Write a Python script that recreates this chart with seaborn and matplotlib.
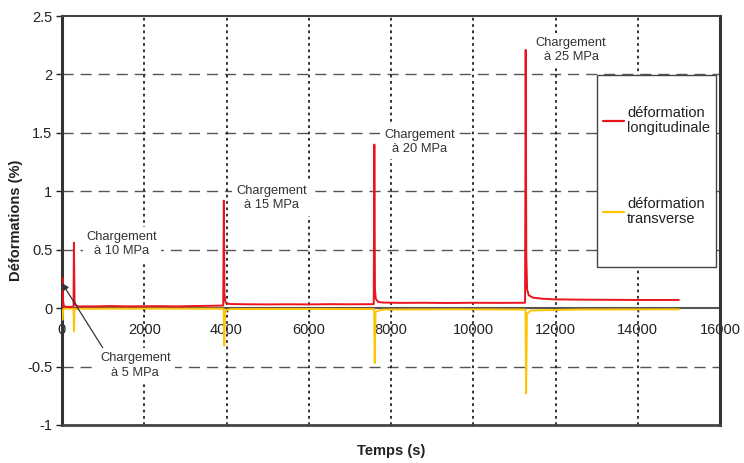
import matplotlib
matplotlib.use("Agg")
import matplotlib.pyplot as plt
from matplotlib.patches import Rectangle
import seaborn as sns
import pandas as pd

# ---- data ----
t_long = [0, 10, 25, 45, 80, 150, 280, 290, 305, 330, 400, 800, 1200, 1600, 2000, 2400, 2800, 3200, 3600, 3920,
          3935, 3950, 3970, 4000, 4100, 4500, 5000, 5500, 6000, 6500, 7000, 7580,
          7595, 7610, 7630, 7680, 7800, 8200, 8800, 9400, 10000, 10600, 11260,
          11275, 11290, 11310, 11350, 11450, 11700, 12000, 12500, 13000, 13500, 14000, 14500, 15000]
v_long = [0.0, 0.26, 0.06, 0.02, 0.012, 0.01, 0.012, 0.56, 0.06, 0.025, 0.015, 0.015, 0.018, 0.015, 0.016, 0.017, 0.015, 0.018, 0.02, 0.022,
          0.92, 0.12, 0.06, 0.04, 0.035, 0.033, 0.032, 0.033, 0.032, 0.034, 0.033, 0.034,
          1.40, 0.16, 0.08, 0.055, 0.048, 0.045, 0.046, 0.044, 0.046, 0.045, 0.046,
          2.21, 0.45, 0.16, 0.11, 0.09, 0.08, 0.075, 0.073, 0.072, 0.071, 0.07, 0.07, 0.07]
t_trans = [0, 10, 25, 60, 280, 290, 305, 400, 2000, 3930, 3945, 3965, 4100, 6000, 7590, 7605, 7625, 7800,
           9500, 11270, 11285, 11305, 11400, 12500, 15000]
v_trans = [0.0, -0.10, -0.005, -0.004, -0.004, -0.20, -0.01, -0.005, -0.004, -0.005, -0.32, -0.02, -0.008, -0.007,
           -0.008, -0.47, -0.03, -0.012, -0.01, -0.012, -0.73, -0.05, -0.02, -0.012, -0.01]
series_names = ["déformation\nlongitudinale", "déformation\ntransverse"]
series_colors = ["#E8141E", "#FFC400"]
annot_texts = ["Chargement\nà 10 MPa", "Chargement\nà 15 MPa", "Chargement\nà 20 MPa", "Chargement\nà 25 MPa"]
annot_pos = [(1460, 0.55), (5100, 0.94), (8700, 1.42), (12380, 2.21)]
x_ticks = [0, 2000, 4000, 6000, 8000, 10000, 12000, 14000, 16000]
y_ticks = [-1, -0.5, 0, 0.5, 1, 1.5, 2, 2.5]
y_tick_labels = ["-1", "-0.5", "0", "0.5", "1", "1.5", "2", "2.5"]

sns.set_theme(style="white")
plt.rcParams["font.family"] = ["Liberation Sans", "DejaVu Sans"]

fig = plt.figure(figsize=(7.44, 4.63), dpi=100)
ax = fig.add_axes([62 / 744, 1 - 425 / 463, 658 / 744, 409 / 463])

df_l = pd.DataFrame({"t": t_long, "v": v_long})
df_t = pd.DataFrame({"t": t_trans, "v": v_trans})
sns.lineplot(data=df_l, x="t", y="v", ax=ax, color=series_colors[0], lw=1.4,
             estimator=None, label=series_names[0], zorder=4)
sns.lineplot(data=df_t, x="t", y="v", ax=ax, color=series_colors[1], lw=1.4,
             estimator=None, label=series_names[1], zorder=3)

ax.set_xlim(0, 16000)
ax.set_ylim(-1, 2.5)

# grid
for yv in [-0.5, 0.5, 1, 1.5, 2]:
    ax.axhline(yv, color="#555555", lw=1.0, dashes=(8, 5), zorder=1)
for xv in x_ticks[1:-1]:
    ax.axvline(xv, color="#222222", lw=1.3, dashes=(1.5, 2), zorder=1)

ax.set_xticks(x_ticks)
ax.set_xticklabels([str(x) for x in x_ticks])
ax.set_yticks(y_ticks)
ax.set_yticklabels(y_tick_labels)

ax.spines["bottom"].set_position(("data", 0))
ax.spines["bottom"].set_color("#555555")
ax.spines["bottom"].set_linewidth(1.5)
ax.spines["bottom"].set_zorder(2)
for s in ["left", "right"]:
    ax.spines[s].set_color("#333333")
    ax.spines[s].set_linewidth(2.2)
ax.spines["top"].set_color("#444444")
ax.spines["top"].set_linewidth(1.5)
ax.axhline(-1, color="#444444", lw=2.0, clip_on=False, zorder=5)

ax.tick_params(axis="both", labelsize=10.5, colors="#222222", direction="out",
               length=4, width=1.0, pad=3)
ax.tick_params(axis="x", pad=8, length=3)
ax.tick_params(axis="y", left=True, length=4)
ax.tick_params(axis="x", bottom=True)

ax.set_xlabel("")
ax.set_ylabel("Déformations (%)", fontsize=10.5, fontweight="bold", color="#222222", labelpad=3)
fig.text(391 / 744, 1 - 451 / 463, "Temps (s)", ha="center", va="center",
         fontsize=10.5, fontweight="bold", color="#222222")

text_bbox = dict(facecolor="white", edgecolor="none", pad=3)
for txt, (x, y) in zip(annot_texts, annot_pos):
    ax.text(x, y, txt, ha="center", va="center", fontsize=9.3, color="#333333",
            linespacing=1.25, zorder=6, bbox=text_bbox)

ax.annotate("Chargement\nà 5 MPa", xy=(0, 0.215), xytext=(1780, -0.49),
            ha="center", va="center", fontsize=9.3, color="#333333", linespacing=1.25,
            bbox=text_bbox,
            arrowprops=dict(arrowstyle="-|>", color="#333333", lw=0.9, relpos=(0.08, 1.0),
                            shrinkA=0, shrinkB=0, mutation_scale=10), zorder=6)

# legend frame (drawn as box) + legend entries
x0 = (597 - 62) / 658
x1 = (716 - 62) / 658
yt = (425 - 75) / 409
yb = (425 - 267) / 409
ax.add_patch(Rectangle((x0, yb), x1 - x0, yt - yb, transform=ax.transAxes,
                       facecolor="white", edgecolor="#444444", lw=1.0, zorder=8))
leg = ax.legend(loc="center left", bbox_to_anchor=((603 - 62) / 658, (425 - 166) / 409),
                frameon=False, fontsize=10.5, handlelength=1.45,
                handletextpad=0.2, labelspacing=4.2, borderpad=0, borderaxespad=0)
for t in leg.get_texts():
    t.set_color("#222222")
    t.set_linespacing(1.1)
for h in leg.get_lines():
    h.set_linewidth(1.6)
leg.set_zorder(10)

fig.savefig("out.png", dpi=100, facecolor="white")
